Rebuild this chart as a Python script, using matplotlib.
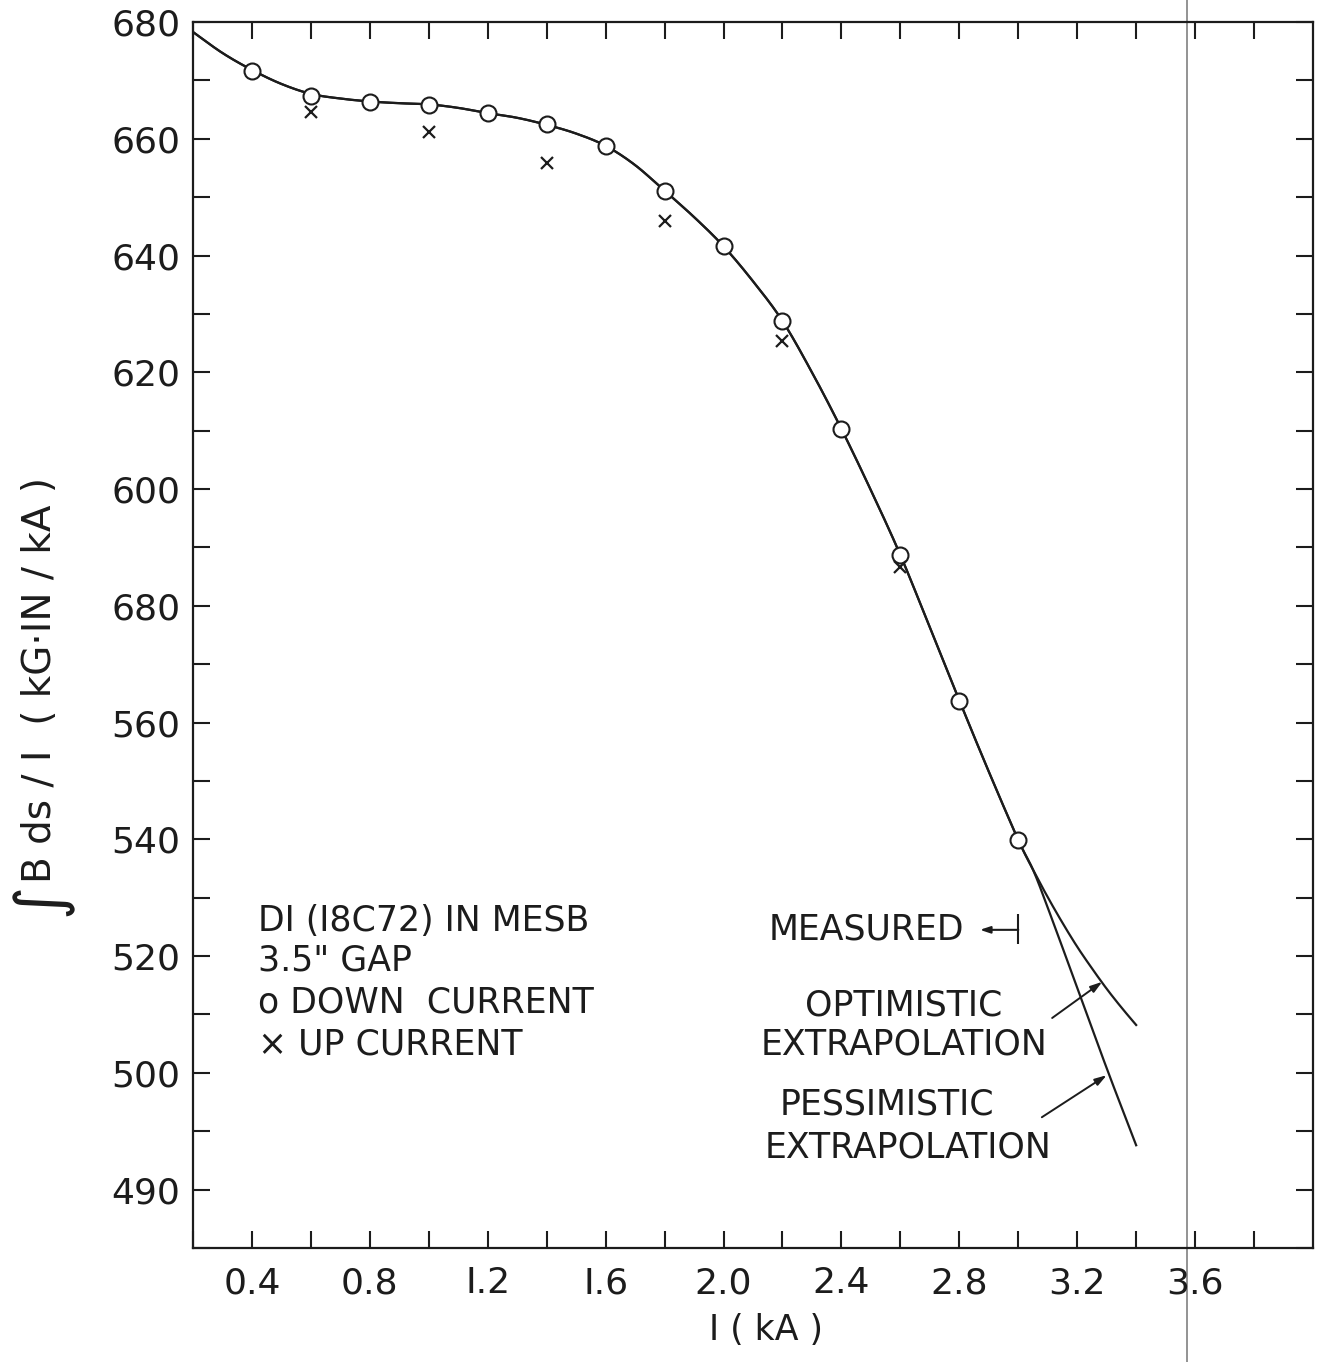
import numpy as np
import matplotlib
matplotlib.use('Agg')
import matplotlib.pyplot as plt

# measured points
down_x = [0.4, 0.6, 0.8, 1.0, 1.2, 1.4, 1.6, 1.8, 2.0, 2.2, 2.4, 2.6, 2.8, 3.0]
down_y = [671.6, 667.3, 666.3, 665.8, 664.4, 662.5, 658.8, 651.1, 641.6, 628.8,
          610.3, 588.7, 563.7, 539.9]
up_x = [0.6, 1.0, 1.4, 1.8, 2.2, 2.6]
up_y = [664.6, 661.2, 655.8, 645.9, 625.4, 586.6]

# hand drawn curve through the points
fit_x = [0.2, 0.3, 0.4, 0.5, 0.6, 0.7, 0.8, 0.9, 1.0, 1.1, 1.2, 1.3, 1.4, 1.5,
         1.6, 1.7, 1.8, 1.9, 2.0, 2.1, 2.2, 2.3, 2.4, 2.5, 2.6, 2.7, 2.8, 2.9, 3.0]
fit_y = [678.3, 674.7, 671.8, 669.4, 667.7, 666.9, 666.4, 666.1, 665.9, 665.3,
         664.4, 663.6, 662.4, 660.9, 658.8, 655.5, 651.1, 646.6, 641.6, 635.6,
         628.8, 620.0, 610.3, 599.8, 588.7, 576.3, 563.8, 551.6, 539.9]
# the two extrapolations
opt_x = [3.05, 3.1, 3.15, 3.2, 3.25, 3.3, 3.35, 3.4]
opt_y = [534.8, 530.1, 525.7, 521.6, 517.9, 514.4, 511.2, 508.2]
pess_x = [3.05, 3.1, 3.2, 3.3, 3.4]
pess_y = [534.8, 528.3, 514.6, 500.8, 487.6]

measured_limit = 3.0

xtick_vals = [0.4, 0.8, 1.2, 1.6, 2.0, 2.4, 2.8, 3.2, 3.6]
xtick_text = ['0.4', '0.8', 'I.2', 'I.6', '2.0', '2.4', '2.8', '3.2', '3.6']
ytick_vals = [680, 660, 640, 620, 600, 580, 560, 540, 520, 500, 480]
ytick_text = ['680', '660', '640', '620', '600', '680', '560', '540', '520', '500', '490']

INK = '#1c1c1c'


def smooth(xs, ys, n=24):
    '''Catmull-Rom pass through the knots so the curve looks drawn, not joined.'''
    xs = np.asarray(xs, float)
    ys = np.asarray(ys, float)
    px = np.concatenate([[2 * xs[0] - xs[1]], xs, [2 * xs[-1] - xs[-2]]])
    py = np.concatenate([[2 * ys[0] - ys[1]], ys, [2 * ys[-1] - ys[-2]]])
    t = np.linspace(0, 1, n, endpoint=False)
    ox, oy = [], []
    for i in range(1, len(px) - 2):
        for p, o in ((px, ox), (py, oy)):
            p0, p1, p2, p3 = p[i - 1], p[i], p[i + 1], p[i + 2]
            o.extend(0.5 * (2 * p1 + (-p0 + p2) * t
                            + (2 * p0 - 5 * p1 + 4 * p2 - p3) * t ** 2
                            + (-p0 + 3 * p1 - 3 * p2 + p3) * t ** 3))
    ox.append(xs[-1])
    oy.append(ys[-1])
    return ox, oy


plt.rcParams['font.family'] = 'DejaVu Sans'
fig = plt.figure(figsize=(13.2, 13.62), dpi=100)
ax = fig.add_axes([0.1462, 0.0837, 0.8485, 0.9001])

for bx, by in ((opt_x, opt_y), (pess_x, pess_y)):
    cx, cy = smooth(fit_x + bx, fit_y + by)
    ax.plot(cx, cy, color=INK, lw=1.6, zorder=2)

ax.plot(down_x, down_y, 'o', ms=11.5, mfc='white', mec=INK, mew=1.5, zorder=3)
ax.plot(up_x, up_y, 'x', ms=9, mec=INK, mew=1.6, zorder=3)

ax.set_xlim(0.2, 4.0)
ax.set_ylim(470, 680)
ax.set_xticks(xtick_vals)
ax.set_xticklabels(xtick_text)
ax.set_xticks(np.arange(0.2, 4.0, 0.2), minor=True)
ax.set_yticks(ytick_vals)
ax.set_yticklabels(ytick_text)
ax.set_yticks(np.arange(470, 680, 10), minor=True)
ax.tick_params(which='both', direction='in', length=12, width=1.5, color=INK,
               top=True, right=True, labelsize=26, labelcolor=INK)
ax.tick_params(axis='x', pad=13)
ax.tick_params(axis='y', pad=9)
for s in ax.spines.values():
    s.set_linewidth(1.6)
    s.set_color(INK)

fs = 25
# legend block
ax.text(0.42, 526.0, 'DI (I8C72) IN MESB', fontsize=fs, color=INK, va='center')
ax.text(0.42, 519.3, '3.5" GAP', fontsize=fs, color=INK, va='center')
ax.text(0.42, 512.1, 'o DOWN  CURRENT', fontsize=fs, color=INK, va='center')
ax.text(0.42, 504.8, '\u00d7 UP CURRENT', fontsize=fs, color=INK, va='center')

# measured marker
ax.text(2.817, 524.5, 'MEASURED', fontsize=fs, color=INK, ha='right', va='center')
ax.annotate('', xy=(2.87, 524.5), xytext=(measured_limit, 524.5),
            arrowprops=dict(arrowstyle='-|>,head_length=0.6,head_width=0.2',
                            color=INK, lw=1.5, shrinkA=0, shrinkB=0))
ax.vlines(measured_limit, 522.0, 527.2, color=INK, lw=1.5)

ax.text(2.611, 511.6, 'OPTIMISTIC', fontsize=fs, color=INK, ha='center', va='center')
ax.text(2.614, 504.8, 'EXTRAPOLATION', fontsize=fs, color=INK, ha='center', va='center')
ax.text(2.554, 494.5, 'PESSIMISTIC', fontsize=fs, color=INK, ha='center', va='center')
ax.text(2.625, 487.3, 'EXTRAPOLATION', fontsize=fs, color=INK, ha='center', va='center')

arrow = dict(arrowstyle='-|>,head_length=0.7,head_width=0.22', color=INK, lw=1.4,
             shrinkA=0, shrinkB=0)
ax.annotate('', xy=(3.285, 515.6), xytext=(3.115, 509.4), arrowprops=arrow)
ax.annotate('', xy=(3.30, 499.6), xytext=(3.08, 492.4), arrowprops=arrow)

# scanner line running down the page
ax.axvline(3.573, ymin=-0.093, ymax=1.02, color='#8a8a8a', lw=1.3, clip_on=False,
           zorder=1)

# axis titles
fig.text(0.58, 0.0235, 'I ( kA )', fontsize=fs, color=INK, ha='center', va='center')
fig.text(0.030, 0.352, 'B ds / I  ( kG\u00b7IN / kA )', fontsize=28, color=INK,
         rotation=90, ha='center', va='bottom')
fig.text(0.031, 0.340, '\u222b', fontsize=46, color=INK, rotation=90,
         ha='center', va='center')

fig.savefig('out.png', dpi=100, facecolor='white')
